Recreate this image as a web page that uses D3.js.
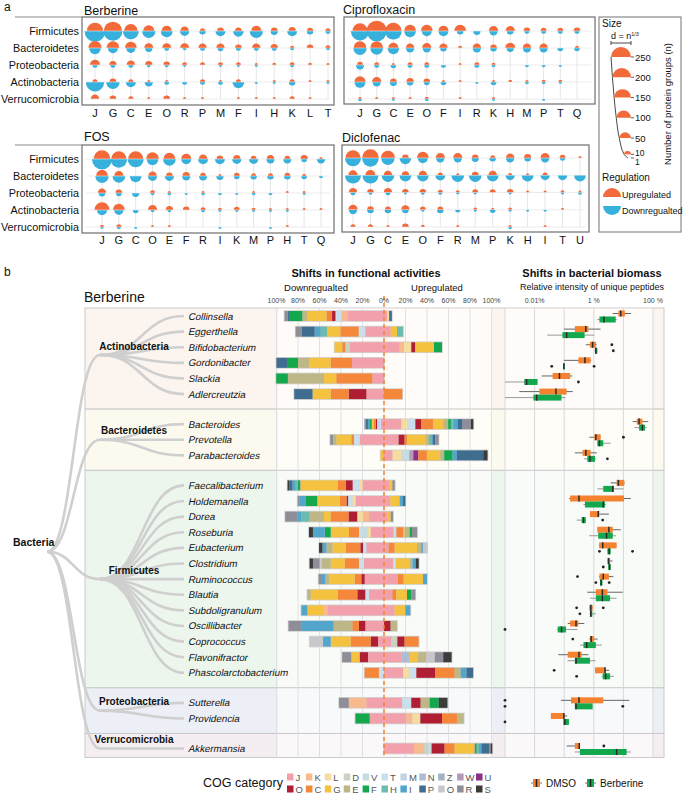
<!DOCTYPE html>
<html><head><meta charset="utf-8">
<script src="https://cdn.jsdelivr.net/npm/d3@7"></script>
<style>body{margin:0;background:#fff}svg{display:block}</style>
</head><body><svg id="c" width="685" height="793" font-family="'Liberation Sans', Arimo, 'DejaVu Sans', sans-serif"></svg>
<script>
// ================= DATA =================
const phyla = ["Firmicutes","Bacteroidetes","Proteobacteria","Actinobacteria","Verrucomicrobia"];

// Panel a: number of protein groups (n), rows = phyla, columns = COG categories
const berberineCols = "J G C E O R P M F I H K L T".split(" ");
const berberineUp = [
 [128,185,74,42,31,18,4,9,9,31,9,12,7,4],
 [74,64,50,22,22,22,18,18,9,18,12,2,9,4],
 [31,12,18,12,9,4,4,4,4,1,2,4,2,1],
 [4,9,4,1,1,0,4,1,4,0,1,4,1,1],
 [18,9,4,1,9,1,1,0,1,1,1,4,1,0]];
const berberineDown = [
 [290,215,128,74,51,25,9,31,38,74,12,31,9,4],
 [50,31,25,12,4,2,4,6,4,4,4,2,0,2],
 [4,4,4,2,2,1,0,1,1,1,0,2,0,0],
 [193,74,31,18,4,4,4,4,50,1,1,9,0,1],
 [0,0,0,0,0,0,0,0,0,0,0,0,0,0]];

const ciproCols = "J G C E O F I R K H M P T Q".split(" ");
const ciproUp = [
 [106,251,128,50,50,31,50,0,25,25,9,6,6,9],
 [64,64,31,18,25,18,2,18,9,31,18,18,0,2],
 [6,4,1,4,4,0,1,4,2,0,0,0,0,0],
 [42,25,9,12,9,1,1,0,1,2,1,2,2,0],
 [1,1,1,1,2,0,1,0,1,0,0,0,0,0]];
const ciproDown = [
 [193,251,145,50,31,31,9,12,18,9,4,4,4,4],
 [74,64,50,18,18,9,0,18,9,12,18,18,6,6],
 [18,4,6,4,4,4,0,4,2,0,2,2,1,0],
 [42,18,12,9,6,6,0,1,6,0,2,2,1,0],
 [2,0,1,0,2,0,0,0,1,0,0,1,0,0]];

const fosCols = "J G C O E F R I K M P H T Q".split(" ");
const fosUp = [
 [145,106,106,64,50,31,18,9,12,6,12,6,12,1],
 [50,25,0,18,9,12,6,1,6,4,4,6,2,0],
 [18,9,0,4,1,0,1,0,0,1,0,1,1,0],
 [106,50,0,25,12,9,4,2,6,2,1,1,1,1],
 [2,4,0,1,1,0,0,0,0,0,0,1,0,0]];
const fosDown = [
 [251,145,128,50,64,31,31,31,25,25,18,18,6,18],
 [74,64,50,25,25,18,18,12,6,9,9,9,6,2],
 [9,6,12,2,2,1,2,2,1,2,2,0,1,0],
 [31,25,6,2,2,0,2,1,1,1,1,1,0,0],
 [1,2,1,0,0,0,0,1,0,0,1,0,0,0]];

const dicloCols = "J G C E O F R M P K H I T U".split(" ");
const dicloUp = [
 [106,145,85,9,50,25,25,9,4,18,12,25,6,1],
 [25,31,18,12,18,4,1,9,18,2,1,4,0,0],
 [18,9,18,9,9,4,2,6,6,9,1,1,2,1],
 [25,9,6,18,6,6,0,2,1,2,0,0,1,0],
 [4,4,1,9,2,0,1,0,0,1,0,1,0,0]];
const dicloDown = [
 [128,145,74,50,31,18,18,12,9,18,9,18,4,0],
 [128,128,64,50,50,31,64,64,50,25,50,25,25,50],
 [4,2,4,1,2,2,1,1,0,1,0,0,1,2],
 [18,9,9,9,1,9,4,1,6,1,1,1,0,0],
 [0,0,0,0,0,0,0,0,0,2,0,0,0,0]];

const sizeLegendValues = [250,200,150,100,50,10];

// Panel b
const groups = [["Actinobacteria",6],["Bacteroidetes",3],["Firmicutes",13],["Proteobacteria",2],["Verrucomicrobia",1]];
const genera = ["Collinsella","Eggerthella","Bifidobacterium","Gordonibacter","Slackia","Adlercreutzia",
 "Bacteroides","Prevotella","Parabacteroides",
 "Faecalibacterium","Holdemanella","Dorea","Roseburia","Eubacterium","Clostridium","Ruminococcus","Blautia",
 "Subdoligranulum","Oscillibacter","Coprococcus","Flavonifractor","Phascolarctobacterium",
 "Sutterella","Providencia","Akkermansia"];
const cogOrder = "J K L D V T M N Z W U O C G E F H I P Q R S".split(" ");
const cogColors = ["#F2A0AB","#F8B98F","#F5DCA0","#C9D3C2","#C5DDE0","#C9DFEC","#C3D2E5","#ADBCD3","#A3B3BE","#B39AB9","#8C2F86",
 "#B01E33","#F4873A","#F4C23E","#BDB686","#13A84E","#6BBCAE","#52A5CB","#3F6D8F","#C8C8CC","#8F8D98","#3B3B3B"];
// % of protein groups per COG, downregulated side
const downShares = [
 "J34 K5.6 T5.6 O3.1 C5.3 G17.7 E4.7 F12.4 P1 R3.1",
 "J17.4 T6.2 C17 G12.4 H5.9 I5.6 P11.8 R5.9",
 "J32 D4 C2.8 G7.1",
 "J29.8 C19.8 G20.2 E10.2 F10.2 P9.9",
 "J10.9 C33.5 G11.5 E33.5 F10.9",
 "J16.4 O16.4 C16.7 G17 P17",
 "J3 T1.5 M2 O1 C2 G2 F1.5 I2 P2 R1",
 "J22.6 T5.3 C2.5 G14 E3.1 R2.5",
 "G3.1",
 "J20 L3 T6.2 O6.2 C7.8 G33.5 E1.5 F2 H2 I3 P3 S1.5",
 "J26.4 L3 T4 O1.5 C6.2 G21 F10.5 I6.2 R1.5",
 "J14 K5.6 L5.3 O8.1 C16.7 G6.2 E13.3 H7.8 I3.7 R11.2",
 "J12.4 L3.1 V4.7 T3.1 C9.3 G17 F5.6 I10.9 S3.7",
 "J16.4 T3.1 O2.5 C13.6 G12.4 E5.6 I3.7 S3.1",
 "J18.6 T4.7 C13.3 G13 E8.1 Q2.2 R6.2 S3.1",
 "J18 O3.1 C6.2 G23.9 E3.4 I3.1 R3.1",
 "J14 T3.4 O7.4 C18 G25.4 E3.1",
 "J52.7 K4 G14.6 I5.6",
 "J17.4 O5.9 C6.2 E17.4 I29.5 R12.4",
 "J5.6 O6.8 C18.6 G18.6 I7.1 Q12.4",
 "J14.9 O7.8 G7.8 R8.4",
 "T4.7 C13.3",
 "J16.4 K16.4 R9",
 "J13.3 F13.3",
 ""];
// upregulated side
const upShares = [
 "J2.8 L2 P2.5",
 "J6.2 G5.9 H5.6",
 "J14.6 K4 L6.8 O3.7 G17.4 F7.4",
 "",
 "",
 "C17",
 "J16.1 L5.3 T7.8 O5.6 C10.9 G9.3 E4.7 F2.5 H2.2 I4 P4.7 R7.8 S2.2",
 "J13.6 O5.6 C2.5 G17 E3.1 H2.2 I1.5 P2.2 R3.1",
 "J8 L7.8 V7.8 W3.7 U4.6 C8 G12.4 E3.7 F7.8 I4 P24.5 S4",
 "J5.3 G2.5 R2.2",
 "J5.9 G8.7 I3.1 P2.2",
 "J2.8 G3.4 R2.2",
 "J9 T2.5 C6.2 G1.5 E4.7 F2.2 R4.7",
 "J4.3 C5.6 G20.8 E4 I1.5 Q4",
 "J8.4 T2.5 G13 E2.5 I3.1 S2.8",
 "J13 C5.3 G18 I3.7",
 "J7.8 C3.7 G9.9 F4 R3.7",
 "J9.9 G9.9 I4.7",
 "O6.2 E5.9",
 "J6.8 D5.6 O6.8 C13",
 "J16.1 N7.8 G7.8 E7.8 Q7.8 R7.8 S7.8",
 "J17.7 L5.6 T6.8 O17.7 C18 E5.6 I5.3 P6.2",
 "J17 T8.4 O8.7 E8.4 F8.4 S8.1",
 "J20.8 K5.6 L7.4 O20.2 C14 E6.2",
 "J27.9 K9.3 D4 V3.1 O12.1 C9.3 G18 E1 F1.5 H2.2 I2.2 P7.1 R1.5 S1.5"];

// Box plots: log10(relative intensity fraction) [whiskerLow, Q1, median, Q3, whiskerHigh]
const dmsoLog10 = [
 [-1.36,-1.17,-1.09,-0.95,-0.74],[-3.01,-2.64,-2.27,-2.18,-1.77],[-2.27,-2.13,-2.04,-1.93,-1.9],
 [-3.01,-2.52,-2.3,-2.11,-2.09],[-3.76,-3.39,-3.16,-2.8,-2.73],[-4.52,-3.84,-3.28,-2.92,-2.71],
 [-0.69,-0.55,-0.47,-0.36,-0.16],[-2.15,-1.98,-1.93,-1.77,-1.76],[-2.64,-2.38,-2.27,-2.11,-1.9],
 [-1.43,-1.23,-1.17,-0.97,-0.95],[-2.83,-2.8,-2.5,-0.98,-0.75],[-2.13,-2.13,-1.85,-1.81,-1.49],
 [-1.88,-1.88,-1.49,-1.36,-1.09],[-1.82,-1.82,-1.7,-1.23,-1.23],[-1.54,-1.54,-1.5,-1.45,-1.37],
 [-1.82,-1.81,-1.68,-1.49,-1.34],[-2.22,-1.93,-1.71,-1.54,-1.02],[-2.15,-2.15,-2.1,-2.04,-2.04],
 [-2.88,-2.8,-2.6,-2.52,-2.32],[-2.15,-2.13,-2.09,-1.99,-1.87],[-3.2,-2.88,-2.5,-2.41,-2.18],
 [-1.96,-1.96,-1.62,-1.62,-1.48],[-3.11,-2.77,-2.5,-1.68,-0.8],[-3.45,-3.45,-3.01,-3.01,-2.9],
 [-2.92,-2.64,-2.49,-2.49,-2.49]];
const dmsoOutliers = [[],[],[-1.39],[],[],[],[],[-1.0],[],[],[],[],[],[],[],[-2.55],[],[-2.58,-1.68],[],[-2.71],[],[-3.34],[-5],[],[-1.66]];
const berbLog10 = [
 [-1.88,-1.81,-1.66,-1.26,-1.23],[-3.57,-3.06,-2.92,-2.31,-1.98],[-1.98,-1.96,-1.93,-1.88,-1.88],
 [-3.01,-3.03,-3.01,-2.99,-3.01],[-5,-4.35,-4.27,-3.9,-3.9],[-5,-4.04,-3.93,-3.09,-2.95],
 [-0.63,-0.47,-0.36,-0.27,-0.21],[-1.88,-1.88,-1.81,-1.68,-1.43],[-2.33,-2.22,-2.13,-1.96,-1.93],
 [-1.88,-1.68,-1.36,-1.32,-1.0],[-2.35,-2.3,-1.68,-1.62,-1.59],[-2.58,-2.41,-2.35,-2.27,-2.27],
 [-2.16,-1.85,-1.57,-1.36,-1.25],[-1.54,-1.54,-1.48,-1.43,-1.43],[-1.51,-1.51,-1.47,-1.43,-1.43],
 [-1.79,-1.79,-1.75,-1.71,-1.71],[-2.13,-1.93,-1.71,-1.45,-1.23],[-2.15,-2.13,-2.1,-2.05,-1.93],
 [-3.25,-3.22,-3.09,-2.94,-2.55],[-2.47,-2.35,-2.24,-1.93,-1.73],[-2.89,-2.64,-2.6,-2.13,-1.94],
 [-1.74,-1.7,-1.6,-1.45,-1.32],[-2.64,-2.64,-2.6,-2.04,-2.04],[-3.03,-3.03,-2.98,-2.84,-2.84],
 [-2.64,-2.47,-1.23,-0.89,-0.75]];
const berbOutliers = [[],[],[-1.34],[-3.42,-1.99],[-2.52],[],[],[],[-1.54],[],[],[-1.7],[],[-1.81,-0.69],[-1.68],[-1.93,-1.48],[],[-2.47],[-5],[],[],[-2.58],[-5,-1.02],[-5],[]];

const barTicks = [-100,-80,-60,-40,-20,0,20,40,60,80,100];
const biomassTicks = [[1e-4,"0.01%"],[1e-2,"1 %"],[1,"100 %"]];
const groupColors = ["#FCF4EF","#FCFAEE","#EDF6EC","#EDEFF6","#F4EEF2"];

// ================= DRAW =================
const svg = d3.select("#c");
const FAM = "'Liberation Sans', Arimo, 'DejaVu Sans', sans-serif";
const UP = "#F26A3A", DOWN = "#38B0DC";
const T = (g,x,y,s,o={})=>{const t=g.append("text").attr("x",x).attr("y",y).text(s).attr("font-size",o.fs||10).attr("fill",o.fill||"#111").attr("font-family",FAM);
  if(o.anchor) t.attr("text-anchor",o.anchor); if(o.bold) t.attr("font-weight","bold");
  if(o.italic) t.attr("x",0).attr("y",0).attr("transform",`translate(${x},${y}) skewX(-12)`);
  return t;};

// ---------- Panel a ----------
T(svg,4,11,"a",{fs:12});
const diam = d3.scalePow().exponent(1/3).domain([0,250]).range([0,20]);
const semi = (cx,cy,r,up)=>`M${cx-r},${cy}A${r},${r} 0 0 ${up?1:0} ${cx+r},${cy}Z`;
const panelsA = [
 {title:"Berberine", cols:berberineCols, up:berberineUp, down:berberineDown, box:[82,17,334,105], cx:[95,328], ry:[31,99], tx:84, ty:15, labels:true, ext:true, ly:117},
 {title:"Ciprofloxacin", cols:ciproCols, up:ciproUp, down:ciproDown, box:[344,17,595,104], cx:[360,577], ry:[31,99], tx:343, ty:14, ly:117},
 {title:"FOS", cols:fosCols, up:fosUp, down:fosDown, box:[82,145,334,233], cx:[102,321], ry:[159,227], tx:84, ty:141, labels:true, ext:true, ly:244},
 {title:"Diclofenac", cols:dicloCols, up:dicloUp, down:dicloDown, box:[342,145,589,232], cx:[353,580], ry:[158,227], tx:342, ty:142, ly:244}
];
panelsA.forEach(p=>{
  const g = svg.append("g");
  const [x0,y0,x1,y1] = p.box;
  const xs = d3.scalePoint().domain(p.cols).range(p.cx);
  const ys = d3.scalePoint().domain(phyla).range(p.ry);
  g.append("rect").attr("x",x0).attr("y",y0).attr("width",x1-x0).attr("height",y1-y0).attr("fill","#fff").attr("stroke","#6e6e6e").attr("stroke-width",1.2);
  if(p.ext) g.append("line").attr("x1",15).attr("x2",x0).attr("y1",y0).attr("y2",y0).attr("stroke","#8a8a8a").attr("stroke-width",1.2);
  phyla.forEach(ph=>g.append("line").attr("x1",x0+4).attr("x2",x1-4).attr("y1",ys(ph)).attr("y2",ys(ph)).attr("stroke","#ececec").attr("stroke-width",1));
  p.cols.forEach(c=>g.append("line").attr("x1",xs(c)).attr("x2",xs(c)).attr("y1",p.ry[0]).attr("y2",p.ry[1]).attr("stroke","#e6e6e6").attr("stroke-width",1));
  phyla.forEach((ph,i)=>p.cols.forEach((c,j)=>{
    const u=p.up[i][j], d=p.down[i][j];
    if(u>0) g.append("path").attr("d",semi(xs(c),ys(ph)-0.3,diam(u)/2,true)).attr("fill",UP);
    if(d>0) g.append("path").attr("d",semi(xs(c),ys(ph)+0.3,diam(d)/2,false)).attr("fill",DOWN);
  }));
  T(g,p.tx,p.ty,p.title,{fs:12.5});
  p.cols.forEach(c=>T(g,xs(c),p.ly,c,{fs:11,anchor:"middle"}));
  if(p.labels) phyla.forEach(ph=>T(g,79,ys(ph)+4,ph,{fs:10.8,anchor:"end"}));
});

// size legend
{
  const g = svg.append("g");
  g.append("rect").attr("x",599).attr("y",17).attr("width",82).attr("height",215).attr("fill","#fff").attr("stroke","#8a8a8a").attr("stroke-width",1.2);
  T(g,602,27,"Size",{fs:10});
  const t = T(g,611,39,"d = n",{fs:9}); t.append("tspan").attr("font-size",5.5).attr("dy",-3.5).text("1/3");
  g.append("path").attr("d","M611,41V45M611,43H631M631,41V45").attr("stroke","#333").attr("fill","none").attr("stroke-width",0.9);
  const ly = d3.scaleLinear().domain([1,250]).range([158,57]);
  const rx = 631;
  const pts = sizeLegendValues.concat([1]).map(v=>[rx-diam(v),ly(v)]);
  g.append("path").attr("d",d3.line().curve(d3.curveMonotoneY)(pts)).attr("fill","none").attr("stroke","#333").attr("stroke-width",0.9);
  sizeLegendValues.forEach(v=>{
    g.append("path").attr("d",semi(rx-diam(v)/2,ly(v),diam(v)/2,true)).attr("fill",UP);
  });
  sizeLegendValues.concat([1]).forEach(v=>{
    g.append("line").attr("x1",rx).attr("x2",rx+3).attr("y1",ly(v)).attr("y2",ly(v)).attr("stroke","#333").attr("stroke-width",0.8);
    const dy = v===10 ? 1.5 : v===1 ? 6.5 : 3.5;
    T(g,rx+4,ly(v)+dy,String(v),{fs:v<=10?8.5:9.5});
  });
  T(g,0,0,"Number of protein groups (n)",{fs:9.5,anchor:"middle"}).attr("transform","translate(671,104) rotate(-90)");
  T(g,602,181,"Regulation",{fs:10});
  g.append("path").attr("d",semi(612,197,9,true)).attr("fill",UP);
  T(g,622,198,"Upregulated",{fs:9});
  g.append("path").attr("d",semi(612,206,9,false)).attr("fill",DOWN);
  T(g,622,214,"Downregualted",{fs:9});
}

// ---------- Panel b ----------
T(svg,4,276,"b",{fs:12});
const gb = svg.append("g");
const step = 15.62, gap = 14.4, y0 = 316;
const rowGroup = []; groups.forEach(([name,n],gi)=>{for(let k=0;k<n;k++) rowGroup.push(gi);});
const rowIndex = d3.scaleLinear().domain([0,genera.length-1]).range([y0, y0+(genera.length-1)*step]);
const rowY = genera.map((_,i)=>rowIndex(i)+gap*rowGroup[i]);
let start = 0;
const gBounds = groups.map(([name,n],gi)=>{
  const first=start, last=start+n-1; start+=n;
  const top = gi===0 ? rowY[first]-8 : (rowY[first]+rowY[first-1])/2;
  const bot = gi===groups.length-1 ? rowY[last]+9 : (rowY[last]+rowY[last+1])/2;
  return {name, first, last, top, bot, node:(rowY[first]+rowY[last])/2};
});
const xBar = d3.scaleLinear().domain([-100,100]).range([276.5,491.5]);
const xBio = d3.scaleLog().domain([1e-5,1]).range([505,653]);
gBounds.forEach((b,gi)=>{
  gb.append("rect").attr("x",85).attr("y",b.top).attr("width",579).attr("height",b.bot-b.top).attr("fill",groupColors[gi]).attr("stroke","#c9c9c9").attr("stroke-width",1);
  gb.append("line").attr("x1",277).attr("x2",277).attr("y1",b.top).attr("y2",b.bot).attr("stroke","#cfcfcf");
  gb.append("rect").attr("x",xBar(-100)).attr("y",b.top+0.5).attr("width",xBar(100)-xBar(-100)).attr("height",b.bot-b.top-1).attr("fill","#fff").attr("opacity",0.6);
  gb.append("rect").attr("x",xBio(1e-5)).attr("y",b.top+0.5).attr("width",xBio(1)-xBio(1e-5)).attr("height",b.bot-b.top-1).attr("fill","#fff").attr("opacity",0.6);
  barTicks.forEach(t=>gb.append("line").attr("x1",xBar(t)).attr("x2",xBar(t)).attr("y1",b.top).attr("y2",b.bot).attr("stroke","#e0e0e4").attr("stroke-width",1));
  [1e-5,1e-4,1e-3,1e-2,1e-1,1].forEach(t=>gb.append("line").attr("x1",xBio(t)).attr("x2",xBio(t)).attr("y1",b.top).attr("y2",b.bot).attr("stroke","#d8d8dc").attr("stroke-width",1));
});

// tree
const link = d3.linkHorizontal().x(d=>d[0]).y(d=>d[1]);
const rootY = (gBounds[0].node+gBounds[gBounds.length-1].node)/2;
const rootX = 47, phX = 100, leafX = 184;
const tree = gb.append("g").attr("fill","none").attr("stroke","#cfcfcf").attr("stroke-width",2.6);
gBounds.forEach(b=>{
  tree.append("path").attr("d",link({source:[rootX,rootY],target:[phX,b.node]}));
  for(let i=b.first;i<=b.last;i++) tree.append("path").attr("d",link({source:[phX,b.node],target:[leafX,rowY[i]]}));
});
T(gb,13,rootY-6,"Bacteria",{fs:10.5,bold:true});
gBounds.forEach(b=>T(gb,134,b.node-5.5,b.name,{fs:10,bold:true,anchor:"middle"}));
genera.forEach((gname,i)=>T(gb,188,rowY[i]+3.5,gname,{fs:9.8,italic:true}));

// bars
const colorOf = d3.scaleOrdinal().domain(cogOrder).range(cogColors);
const parse = s=>{const m={}; s.trim().split(/\s+/).filter(Boolean).forEach(t=>{m[t[0]]=+t.slice(1);}); return cogOrder.filter(c=>m[c]).map(c=>({cog:c,v:m[c]}));};
genera.forEach((gname,i)=>{
  const y=rowY[i], h=10;
  const dn=parse(downShares[i]), up=parse(upShares[i]);
  const dT=d3.sum(dn,d=>d.v), uT=d3.sum(up,d=>d.v);
  if(dT+uT>0) gb.append("rect").attr("x",xBar(-dT)-0.8).attr("y",y-h/2-0.8).attr("width",xBar(uT)-xBar(-dT)+1.6).attr("height",h+1.6).attr("fill","#d2d2d2");
  let c=0; dn.forEach(d=>{gb.append("rect").attr("x",xBar(-c-d.v)).attr("width",xBar(-c)-xBar(-c-d.v)).attr("y",y-h/2).attr("height",h).attr("fill",colorOf(d.cog)); c+=d.v;});
  c=0; up.forEach(d=>{gb.append("rect").attr("x",xBar(c)).attr("width",xBar(c+d.v)-xBar(c)).attr("y",y-h/2).attr("height",h).attr("fill",colorOf(d.cog)); c+=d.v;});
});
gb.append("line").attr("x1",xBar(0)).attr("x2",xBar(0)).attr("y1",296).attr("y2",gBounds[gBounds.length-1].bot).attr("stroke","#F5822F").attr("stroke-width",1.5).attr("stroke-dasharray","4,3");

// box plots
const drawBox=(st,outs,y,color,wc)=>{
  const v=st.map(s=>10**s);
  gb.append("line").attr("x1",xBio(v[0])).attr("x2",xBio(v[4])).attr("y1",y).attr("y2",y).attr("stroke",wc).attr("stroke-width",1);
  gb.append("rect").attr("x",xBio(v[1])).attr("width",Math.max(1.5,xBio(v[3])-xBio(v[1]))).attr("y",y-3).attr("height",6).attr("fill",color);
  gb.append("line").attr("x1",xBio(v[2])).attr("x2",xBio(v[2])).attr("y1",y-3).attr("y2",y+3).attr("stroke","#2a2a2a").attr("stroke-width",1.5);
  outs.forEach(o=>gb.append("circle").attr("cx",xBio(10**o)).attr("cy",y).attr("r",1.4).attr("fill","#222"));
};
genera.forEach((gname,i)=>{
  drawBox(dmsoLog10[i],dmsoOutliers[i],rowY[i]-2.5,"#F5822F","#666");
  drawBox(berbLog10[i],berbOutliers[i],rowY[i]+3.5,"#13A84E","#999");
});

// headers
T(gb,366,277,"Shifts in functional activities",{fs:11,bold:true,anchor:"middle"});
T(gb,592,277,"Shifts in bacterial biomass",{fs:11,bold:true,anchor:"middle"});
T(gb,316,291,"Downregualted",{fs:9.5,anchor:"middle"});
T(gb,437,291,"Upregulated",{fs:9.5,anchor:"middle"});
T(gb,592,290,"Relative intensity of unique peptides",{fs:9,anchor:"middle"});
T(gb,84,302,"Berberine",{fs:14});
barTicks.forEach(t=>T(gb,xBar(t),303,Math.abs(t)+"%",{fs:7,anchor:"middle",fill:"#444"}));
biomassTicks.forEach(([v,s])=>T(gb,xBio(v),303,s,{fs:7,anchor:"middle",fill:"#444"}));

// bottom legend
T(gb,203,787,"COG category",{fs:12.5});
cogOrder.forEach((c,k)=>{
  const row=k<11?0:1, col=k%11, x=287+col*18.9, y=row?789:777;
  gb.append("rect").attr("x",x).attr("y",y-3.5).attr("width",6.5).attr("height",7).attr("fill",colorOf(c));
  T(gb,x+8.5,y+3.5,c,{fs:9.5,fill:"#555"});
});
[["DMSO","#F5822F",531],["Berberine","#13A84E",585]].forEach(([lab,col,x])=>{
  gb.append("line").attr("x1",x).attr("x2",x+11).attr("y1",783).attr("y2",783).attr("stroke","#777");
  gb.append("rect").attr("x",x+2).attr("y",779).attr("width",7).attr("height",8).attr("fill",col);
  gb.append("line").attr("x1",x+5.5).attr("x2",x+5.5).attr("y1",779).attr("y2",787).attr("stroke","#222").attr("stroke-width",1.5);
  T(gb,x+15,786.5,lab,{fs:10});
});
</script></body></html>
